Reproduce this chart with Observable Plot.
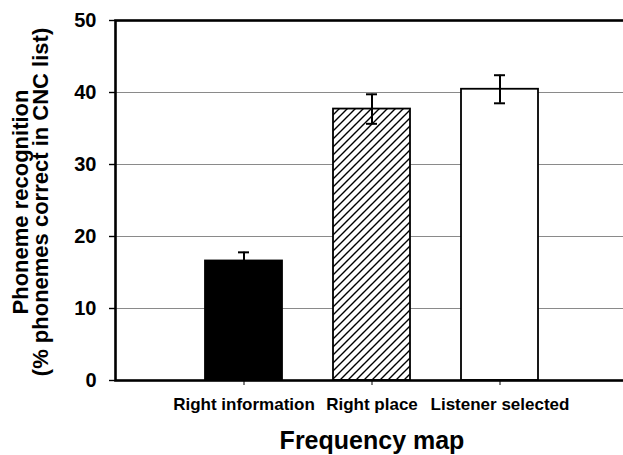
<!DOCTYPE html>
<html>
<head>
<meta charset="utf-8">
<script src="https://cdn.jsdelivr.net/npm/d3@7"></script>
<script src="https://cdn.jsdelivr.net/npm/@observablehq/plot@0.6"></script>
<style>
  html, body { margin: 0; padding: 0; background: #fff; }
  #chart svg { font-family: "Liberation Sans", Arial, sans-serif; font-weight: bold; }
</style>
</head>
<body>
<div id="chart"></div>
<script>
// ---- data ----
const categories = ["Right information", "Right place", "Listener selected"];
const values = [16.6, 37.7, 40.45];
const errors = [1.2, 2.05, 1.95];
const yTicks = [0, 10, 20, 30, 40, 50];
const gridTicks = [10, 20, 30, 40];
const xTitle = "Frequency map";
const yTitleLines = ["Phoneme recognition", "(% phonemes correct in CNC list)"];

const data = categories.map((c, i) => ({category: c, value: values[i], err: errors[i]}));
const barFills = ["#000", "url(#hatch)", "#fff"];

const chart = Plot.plot({
  width: 623,
  height: 455,
  marginLeft: 115,
  marginRight: -6,
  marginTop: 20,
  marginBottom: 75,
  x: {domain: categories, paddingInner: 0.395, paddingOuter: 0.694},
  y: {domain: [0, 50]},
  color: {domain: categories, range: barFills},
  marks: [
    Plot.ruleY(gridTicks, {stroke: "#8a8a8a", strokeWidth: 1}),
    Plot.barY(data, {x: "category", y: "value", fill: "category", stroke: "#000", strokeWidth: 1.8}),
    Plot.ruleX(data, {x: "category", y1: d => d.value - d.err, y2: d => d.value + d.err, stroke: "#000", strokeWidth: 2}),
    Plot.tickY(data, {x: "category", y: d => d.value + d.err, insetLeft: 33, insetRight: 33, stroke: "#000", strokeWidth: 2}),
    Plot.tickY(data, {x: "category", y: d => d.value - d.err, insetLeft: 33, insetRight: 33, stroke: "#000", strokeWidth: 2}),
    Plot.frame({stroke: "#000", strokeWidth: 2.6}),
    Plot.axisY({ticks: yTicks, tickSize: 6, tickPadding: 13, fontSize: 20, stroke: "#000", strokeWidth: 1.4, label: null}),
    Plot.axisX({tickSize: 5, tickPadding: 12, fontSize: 17, stroke: "#000", strokeWidth: 1, label: null})
  ]
});

// hatch pattern definition
const svg = d3.select(chart);
const defs = svg.insert("defs", ":first-child");
const pat = defs.append("pattern")
  .attr("id", "hatch")
  .attr("patternUnits", "userSpaceOnUse")
  .attr("width", 8).attr("height", 8);
pat.append("rect").attr("width", 8).attr("height", 8).attr("fill", "#fff");
pat.append("path")
  .attr("d", "M-2,2 L2,-2 M0,8 L8,0 M6,10 L10,6")
  .attr("stroke", "#000").attr("stroke-width", 1.4);

// titles
svg.append("text")
  .attr("x", 372).attr("y", 449)
  .attr("text-anchor", "middle")
  .attr("font-size", 25).attr("font-weight", "bold").attr("fill", "#000")
  .text(xTitle);

const yt = svg.append("text")
  .attr("transform", "translate(0,202) rotate(-90)")
  .attr("text-anchor", "middle")
  .attr("font-size", 22).attr("font-weight", "bold").attr("fill", "#000");
yt.append("tspan").attr("x", 0).attr("y", 28).text(yTitleLines[0]);
yt.append("tspan").attr("x", 0).attr("y", 48).text(yTitleLines[1]);

document.getElementById("chart").appendChild(chart);
</script>
</body>
</html>
